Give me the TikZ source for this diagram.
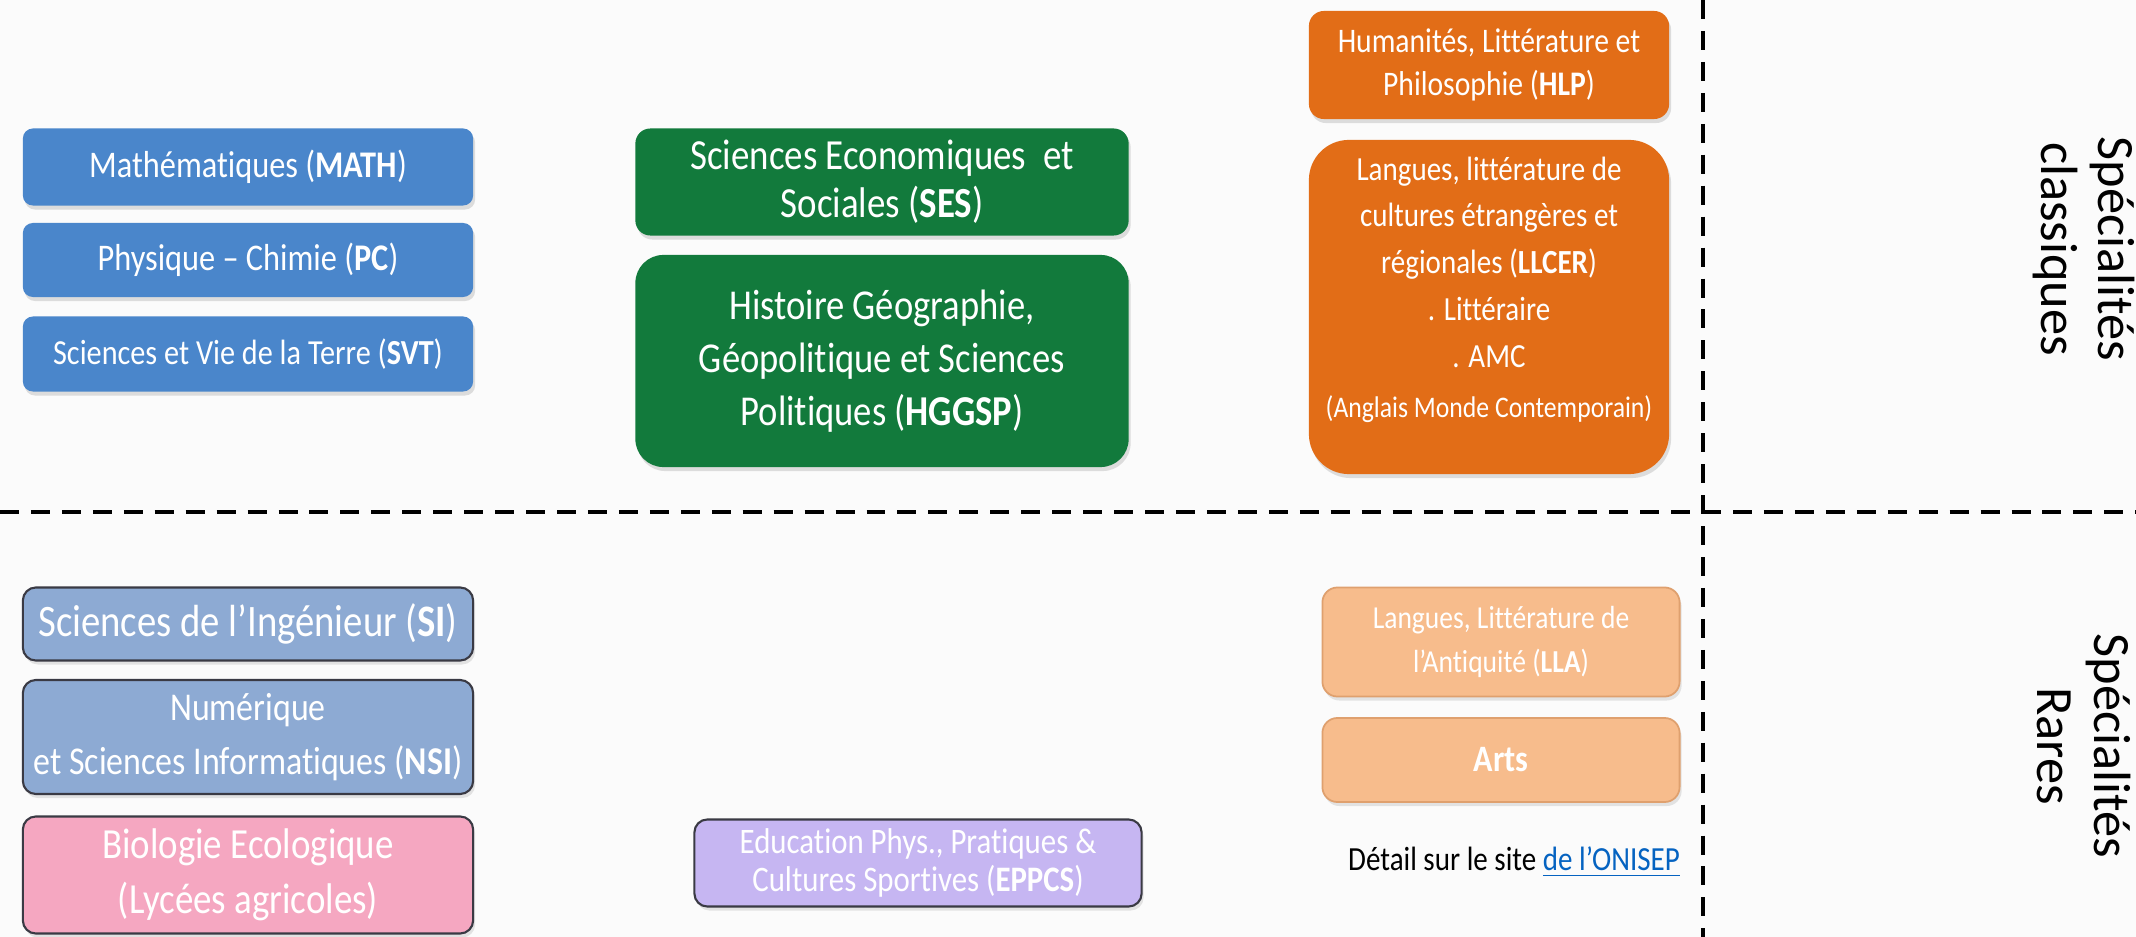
\documentclass[tikz,border=0pt]{standalone}
\usepackage{fontspec}
\setmainfont{Carlito}[FakeStretch=0.86, Ligatures=NoCommon]
\newfontfamily\rotfont{Carlito}[Ligatures=NoCommon]
\usetikzlibrary{shadows}
\definecolor{bgc}{HTML}{FBFBFB}
\definecolor{cblue}{HTML}{4A86CB}
\definecolor{cgreen}{HTML}{127A3C}
\definecolor{corange}{HTML}{E26D17}
\definecolor{rblue}{HTML}{8DAAD3}
\definecolor{rpink}{HTML}{F5A7C1}
\definecolor{rlav}{HTML}{C6B6F2}
\definecolor{rorange}{HTML}{F7BC8C}
\definecolor{rborder}{HTML}{3A3A44}
\definecolor{roborder}{HTML}{DFA06E}
\definecolor{linkblue}{HTML}{0563C1}
\newcommand{\fs}[2]{\fontsize{#1}{#2}\selectfont}
\tikzset{
  base/.style={text=white, align=center, inner sep=0pt},
  classic/.style={base, drop shadow={opacity=0.25, shadow xshift=0.02cm, shadow yshift=-0.04cm}},
  bluebox/.style={classic, fill=cblue, rounded corners=0.1cm, minimum width=4.5cm},
  greenbox/.style={classic, fill=cgreen, minimum width=4.93cm},
  orangebox/.style={classic, fill=corange, minimum width=3.6cm},
  rarebox/.style={base, draw=rborder, line width=0.6pt, rounded corners=0.13cm, minimum width=4.5cm,
     drop shadow={opacity=0.2, shadow xshift=0.02cm, shadow yshift=-0.04cm}},
  rorangebox/.style={base, fill=rorange, draw=roborder, line width=0.5pt, rounded corners=0.15cm, minimum width=3.57cm,
     drop shadow={opacity=0.2, shadow xshift=0.02cm, shadow yshift=-0.04cm}},
  divider/.style={draw=black, line width=1.1pt, dash pattern=on 5.4pt off 3.4pt},
  sidelabel/.style={rotate=-90, align=center, text=black, inner sep=0pt}
}
\begin{document}
\begin{tikzpicture}[x=0.01cm, y=-0.01cm]
\useasboundingbox (0,0) rectangle (2136,937);
\fill[bgc] (0,0) rectangle (2136,937);

% dividers
\coordinate (hl) at (0,512);
\coordinate (hr) at (2136,512);
\coordinate (vt) at (1703,0);
\coordinate (vb) at (1703,937);
\draw[divider] (hl) -- (hr);
\draw[divider] (vt) -- (vb);

% classic: blue column
\node[bluebox, minimum height=0.77cm, font=\fs{10.7pt}{12pt}] (math) at (248,167) {Mathématiques (\textbf{MATH})};
\node[bluebox, minimum height=0.74cm, font=\fs{10.7pt}{12pt}] (pc) at (248,260) {Physique – Chimie (\textbf{PC})};
\node[bluebox, minimum height=0.75cm, font=\fs{10pt}{12pt}] (svt) at (248,354) {Sciences et Vie de la Terre (\textbf{SVT})};

% classic: green column
\node[greenbox, rounded corners=0.15cm, minimum height=1.07cm, font=\fs{12.2pt}{13.6pt}] (ses) at (882,182) {Sciences Economiques \ et\\Sociales (\textbf{SES})};
\node[greenbox, rounded corners=0.28cm, minimum height=2.12cm, font=\fs{12.1pt}{15pt}] (hggsp) at (882,361) {Histoire Géographie,\\Géopolitique et Sciences\\Politiques (\textbf{HGGSP})};

% classic: orange column
\node[orangebox, rounded corners=0.15cm, minimum height=1.08cm, font=\fs{9.8pt}{12.2pt}] (hlp) at (1489,65) {Humanités, Littérature et\\Philosophie (\textbf{HLP})};
\node[orangebox, rounded corners=0.4cm, minimum height=3.34cm] (llcer) at (1489,307) {};
\node[base, font=\fs{9.6pt}{13.3pt}] (llcertxt) at (1489,262) {Langues, littérature de\\cultures étrangères et\\régionales (\textbf{LLCER})\\. Littéraire\\. AMC};
\node[base, font=\fs{8.5pt}{10pt}] (amc) at (1489,409) {(Anglais Monde Contemporain)};

% rare: left column
\node[rarebox, fill=rblue, minimum height=0.73cm, font=\fs{12.8pt}{14pt}] (si) at (248,624) {Sciences de l’Ingénieur (\textbf{SI})};
\node[rarebox, fill=rblue, minimum height=1.14cm, font=\fs{11.2pt}{15.3pt}] (nsi) at (248,737) {Numérique\\et Sciences Informatiques (\textbf{NSI})};
\node[rarebox, fill=rpink, minimum height=1.17cm, font=\fs{12.2pt}{15.6pt}] (bio) at (248,875) {Biologie Ecologique\\(Lycées agricoles)};

% rare: middle
\node[rarebox, fill=rlav, minimum width=4.47cm, minimum height=0.87cm, font=\fs{10.2pt}{11pt}] (eppcs) at (918,863) {Education Phys., Pratiques \&\\Cultures Sportives (\textbf{EPPCS})};

% rare: right column
\node[rorangebox, minimum height=1.09cm, font=\fs{9.1pt}{12.3pt}] (lla) at (1501,642) {Langues, Littérature de\\l’Antiquité (\textbf{LLA})};
\node[rorangebox, minimum height=0.84cm, font=\fs{10.6pt}{12pt}] (arts) at (1501,760) {\textbf{Arts}};

% link text
\node[text=black, inner sep=0pt, font=\fs{9.6pt}{11pt}] (detail) at (1514,862) {Détail sur le site \textcolor{linkblue}{\underline{de l’ONISEP}}};

% side labels
\node[sidelabel, font=\rotfont\fs{14.9pt}{16.2pt}] (specc) at (2084,249) {Spécialités\\classiques};
\node[sidelabel, font=\rotfont\fs{14.9pt}{16.2pt}] (specr) at (2084,746) {Spécialités\\Rares};
\end{tikzpicture}
\end{document}
